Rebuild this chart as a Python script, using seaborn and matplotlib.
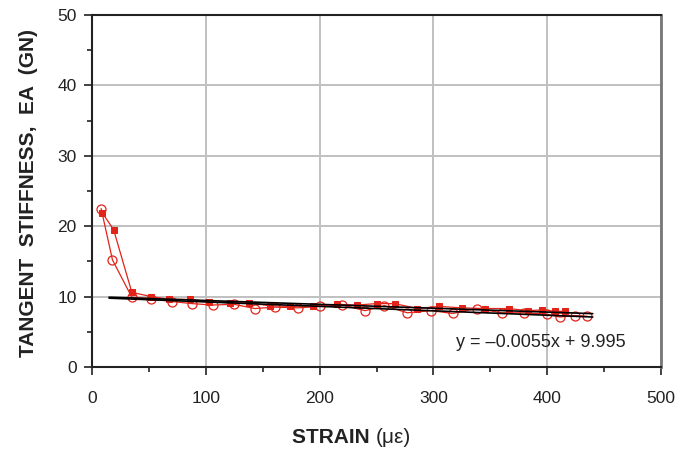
import numpy as np
import pandas as pd
import matplotlib
matplotlib.use("Agg")
import matplotlib.pyplot as plt
import seaborn as sns
from matplotlib import font_manager
from matplotlib.ticker import MultipleLocator

# ------------------------------
# Data
# ------------------------------
strain_open = [8, 18, 35, 52, 70, 88, 106, 125, 143, 161, 181, 200, 220, 240,
               257, 277, 298, 317, 338, 360, 380, 400, 411, 424, 435]
stiff_open = [22.5, 15.2, 9.9, 9.7, 9.3, 9.0, 8.8, 8.9, 8.3, 8.5, 8.4, 8.6, 8.8, 8.0,
              8.7, 7.7, 8.0, 7.6, 8.3, 7.7, 7.7, 7.5, 7.1, 7.3, 7.2]

strain_filled = [9, 19, 35, 52, 68, 86, 103, 121, 138, 156, 174, 194, 215, 233,
                 250, 266, 286, 305, 325, 345, 366, 383, 395, 407, 416]
stiff_filled = [21.9, 19.5, 10.6, 10.0, 9.6, 9.6, 9.3, 9.1, 9.1, 8.7, 8.6, 8.7, 8.9, 8.8,
                9.0, 9.0, 8.3, 8.6, 8.4, 8.3, 8.3, 8.0, 8.1, 7.9, 7.9]

# trend lines: start/end strain, slopes and intercepts
trend_x = [15, 440]
trend_slopes = [-0.0055, -0.0063]
trend_intercepts = [9.995, 9.87]
equation = "y = \u20130.0055x + 9.995"

red = "#e2231a"

sns.set_style("whitegrid")
plt.rcParams["font.family"] = ["Liberation Sans", "DejaVu Sans"]

# narrow face for tick numbers if available, else a slightly smaller regular one
installed = {f.name for f in font_manager.fontManager.ttflist}
if "Liberation Sans Narrow" in installed:
    tick_family, tick_size = "Liberation Sans Narrow", 14
else:
    tick_family, tick_size = "Liberation Sans", 12.5

fig = plt.figure(figsize=(6.75, 4.65), dpi=100)
ax = fig.add_axes([0.1363, 0.2108, 0.843, 0.757])

df_open = pd.DataFrame({"strain": strain_open, "stiffness": stiff_open})
df_filled = pd.DataFrame({"strain": strain_filled, "stiffness": stiff_filled})

sns.lineplot(data=df_filled, x="strain", y="stiffness", sort=False, ax=ax,
             color=red, linewidth=0.9, marker="s", markersize=4.5,
             markeredgecolor=red, markerfacecolor=red, zorder=3)
sns.lineplot(data=df_open, x="strain", y="stiffness", sort=False, ax=ax,
             color=red, linewidth=0.9, marker="o", markersize=6.5,
             markeredgecolor=red, markerfacecolor="none", markeredgewidth=0.9,
             zorder=4)

tx = np.array(trend_x, dtype=float)
for m, b in zip(trend_slopes, trend_intercepts):
    sns.lineplot(x=tx, y=m * tx + b, ax=ax, color="black", linewidth=1.2, zorder=5)

ax.text(0.937, 0.07, equation, transform=ax.transAxes, ha="right",
        va="center", fontsize=13, color="#222222")

ax.set_xlim(0, 500)
ax.set_ylim(0, 50)
ax.xaxis.set_major_locator(MultipleLocator(100))
ax.xaxis.set_minor_locator(MultipleLocator(50))
ax.yaxis.set_major_locator(MultipleLocator(10))
ax.yaxis.set_minor_locator(MultipleLocator(5))

ax.grid(True, which="major", color="#c0c0c0", linewidth=1.4)
ax.grid(False, which="minor")

for side in ["left", "bottom", "top"]:
    ax.spines[side].set_color("#222222")
    ax.spines[side].set_linewidth(1.5)
ax.spines["right"].set_color("#777777")
ax.spines["right"].set_linewidth(2.0)

ax.tick_params(axis="both", which="major", direction="out", length=6, width=1.2,
               color="#222222", labelsize=tick_size, labelcolor="#222222")
ax.tick_params(axis="both", which="minor", direction="out", length=3.5, width=1.2,
               color="#222222")
ax.tick_params(axis="x", which="major", pad=11)
ax.tick_params(axis="y", which="major", pad=5)
ax.tick_params(left=True, bottom=True, which="both")

ax.set_xlabel("")
ax.set_ylabel("")

# axis titles
fig.text(0.556, 0.06, "STRAIN ", ha="right", va="center", fontsize=15,
         fontweight="bold", color="#222222")
fig.text(0.556, 0.06, "(\u03bc\u03b5)", ha="left", va="center", fontsize=15,
         color="#222222")
fig.text(0.042, 0.585, "TANGENT  STIFFNESS,  EA  (GN)", rotation=90, ha="center",
         va="center", fontsize=15, fontweight="bold", color="#222222")

fig.canvas.draw()
for lab in ax.get_xticklabels() + ax.get_yticklabels():
    lab.set_fontfamily(tick_family)

plt.savefig("out.png", dpi=100)
plt.close()
